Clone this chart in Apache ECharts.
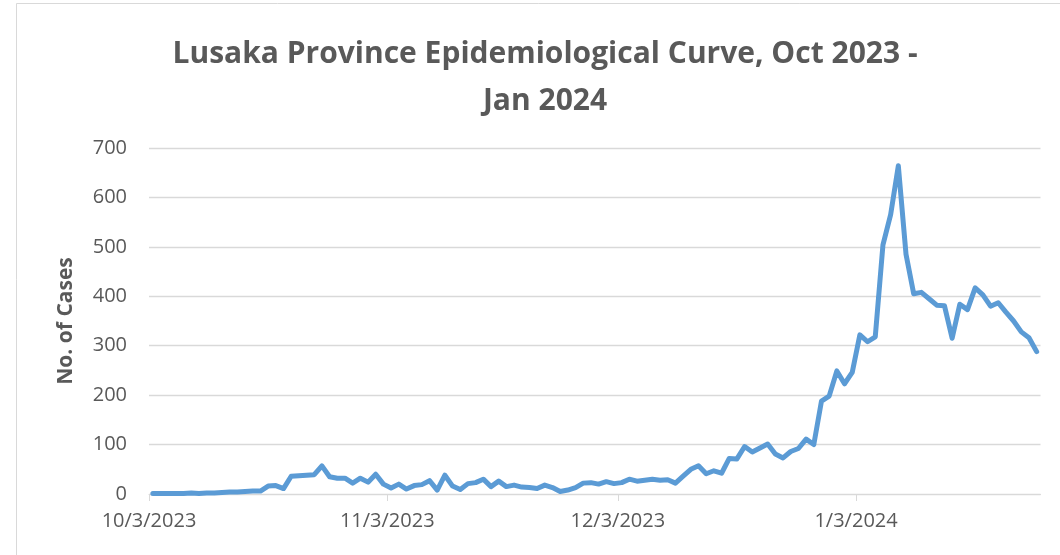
<!DOCTYPE html>
<html>
<head>
<meta charset="utf-8">
<title>Lusaka Province Epidemiological Curve</title>
<script src="https://cdn.jsdelivr.net/npm/echarts@6/dist/echarts.min.js"></script>
<style>
  html, body { margin: 0; padding: 0; background: #fff; }
  #chart { width: 1060px; height: 555px; }
</style>
</head>
<body>
<div id="chart"></div>
<script>
// first day of the series (10/3/2023), one value per day after it
const startDate = [2023, 9, 3]
const endDate = [2024, 0, 27]

// daily case counts, 10/3/2023 .. 1/26/2024
const cases = [
  1, 1, 1, 1, 1, 2, 1, 2, 2, 3, 4, 4, 5, 6,
  6, 16, 17, 11, 36, 37, 38, 39, 57,
  35, 32, 32, 22, 32, 24, 40, 20, 12, 20, 10, 17, 19, 27, 8, 38, 16, 9,
  21, 23, 30, 15, 26, 15, 18, 14, 13, 11, 18, 13, 5, 8, 13, 22, 23, 20,
  25, 21, 23, 30, 26, 28, 30, 28, 29, 22,
  36, 50, 57, 41, 47, 42, 72, 71, 96, 85, 93, 101, 81, 73, 86, 92, 111, 100,
  188, 198, 249, 223, 246, 322,
  308, 318, 504, 565, 664, 485, 405, 408, 395, 382, 381, 315, 384, 373,
  417, 403, 380, 387, 368, 350, 328, 316, 288
]

// x tick labels
const tickDates = [
  [2023, 9, 3],
  [2023, 10, 3],
  [2023, 11, 3],
  [2024, 0, 3],
]

const yTicks = [0, 100, 200, 300, 400, 500, 600, 700]

const textColor = '#595959'
const gridColor = '#d9d9d9'
const lineColor = '#5b9bd5'

const DAY = 24 * 3600 * 1000
const UTC = (ymd) => Date.UTC(ymd[0], ymd[1], ymd[2])
// days since the first date
const dayOf = (ymd) => Math.round((UTC(ymd) - UTC(startDate)) / DAY)

// each point sits in the middle of its day, as Excel draws a date axis
const seriesData = cases.map((v, i) => [i + 0.5, v])
const tickValues = tickDates.map(dayOf)

const formatDay = (val) => {
  const d = new Date(UTC(startDate) + Math.round(val) * DAY)
  return d.getUTCMonth() + 1 + '/' + d.getUTCDate() + '/' + d.getUTCFullYear()
}

const myChart = echarts.init(document.getElementById('chart'), null, { renderer: 'canvas' })

const option = {
  backgroundColor: '#fff',
  animation: false,
  graphic: [
    {
      type: 'rect',
      shape: { x: 16.5, y: 3.5, width: 1100, height: 600 },
      style: { fill: 'none', stroke: gridColor, lineWidth: 1 },
      silent: true,
    },
  ],
  title: {
    text: 'Lusaka Province Epidemiological Curve, Oct 2023 -\nJan 2024',
    left: 540,
    top: 26,
    textAlign: 'center',
    textStyle: {
      fontFamily: 'Open Sans',
      fontWeight: 'bold',
      fontSize: 30,
      color: textColor,
      lineHeight: 47,
    },
  },
  grid: {
    left: 149,
    right: 19.5,
    top: 148,
    bottom: 61,
  },
  xAxis: {
    type: 'value',
    min: 0,
    max: dayOf(endDate),
    axisLine: { show: true, lineStyle: { color: gridColor, width: 1 } },
    axisTick: {
      show: true,
      length: 7,
      customValues: tickValues,
      lineStyle: { color: gridColor, width: 1 },
    },
    axisLabel: {
      customValues: tickValues,
      formatter: formatDay,
      color: textColor,
      fontFamily: 'Open Sans',
      fontSize: 20,
      margin: 17,
    },
    splitLine: { show: false },
  },
  yAxis: {
    type: 'value',
    min: yTicks[0],
    max: yTicks[yTicks.length - 1],
    interval: 100,
    name: 'No. of Cases',
    nameLocation: 'middle',
    nameGap: 72,
    nameTextStyle: {
      fontFamily: 'Open Sans',
      fontWeight: 'bold',
      fontSize: 21,
      color: textColor,
    },
    axisLine: { show: false },
    axisTick: { show: false },
    axisLabel: {
      color: textColor,
      fontFamily: 'Open Sans',
      fontSize: 20,
      margin: 22,
    },
    splitLine: { lineStyle: { color: gridColor, width: 1.3 } },
  },
  series: [
    {
      type: 'line',
      name: 'Cases',
      data: seriesData,
      showSymbol: false,
      symbol: 'none',
      lineStyle: { color: lineColor, width: 5, join: 'round', cap: 'round' },
      itemStyle: { color: lineColor },
    },
  ],
}

myChart.setOption(option)
</script>
</body>
</html>
